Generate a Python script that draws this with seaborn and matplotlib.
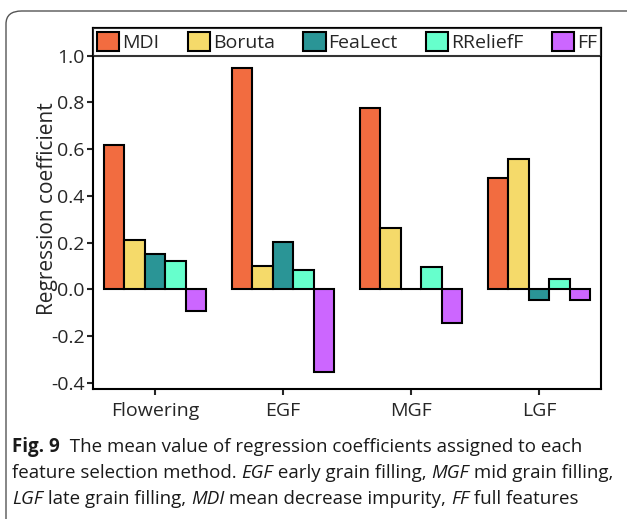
import matplotlib
matplotlib.use("Agg")
import matplotlib.pyplot as plt
import seaborn as sns
import pandas as pd
from matplotlib.patches import FancyBboxPatch

stages = ["Flowering", "EGF", "MGF", "LGF"]
methods = ["MDI", "Boruta", "FeaLect", "RReliefF", "FF"]
mdi = [0.62, 0.946, 0.778, 0.477]
boruta = [0.213, 0.098, 0.263, 0.558]
fealect = [0.15, 0.204, 0.0, -0.044]
rrelieff = [0.123, 0.084, 0.096, 0.046]
ff = [-0.093, -0.354, -0.143, -0.047]
colors = ["#F26C40", "#F5DA6A", "#2A9596", "#66FFCC", "#CC66FF"]
yticks = [-0.4, -0.2, 0.0, 0.2, 0.4, 0.6, 0.8, 1.0]

rows = []
for m, vals in zip(methods, [mdi, boruta, fealect, rrelieff, ff]):
    for s, v in zip(stages, vals):
        rows.append({"stage": s, "method": m, "value": v})
df = pd.DataFrame(rows)

sns.set_style("white")
plt.rcParams["font.family"] = ["Open Sans", "DejaVu Sans"]

fig = plt.figure(figsize=(6.27, 5.19), dpi=100)
fig.patch.set_facecolor("white")

# rounded frame
frame = FancyBboxPatch((6 / 627, -20 / 519), 650 / 627, 528 / 519,
                       boxstyle="round,pad=0,rounding_size=0.025",
                       transform=fig.transFigure, facecolor="none",
                       edgecolor="#555555", linewidth=1.0, clip_on=False)
fig.patches.append(frame)

ax = fig.add_axes([93 / 627, 130 / 519, 508 / 627, 361 / 519])
sns.barplot(data=df, x="stage", y="value", hue="method", order=stages,
            hue_order=methods, palette=colors, width=0.8, ax=ax,
            edgecolor="black", linewidth=1.5, saturation=1)

ax.set_ylim(-0.427, 1.119)
ax.set_xlim(-0.484, 3.484)
ax.set_yticks(yticks)
ax.set_yticklabels([f"{t:.1f}" for t in yticks], fontsize=14)
ax.set_xlabel("")
ax.set_ylabel("Regression coefficient", fontsize=15)
ax.yaxis.set_label_coords(-0.069, 0.5)
ax.tick_params(axis="x", labelsize=14, length=4, width=1.5, direction="out", bottom=True, pad=5)
ax.tick_params(axis="y", length=4, width=1.5, direction="out", left=True, pad=2)
for sp in ax.spines.values():
    sp.set_linewidth(1.5)
    sp.set_color("black")

leg = ax.legend(loc="upper left", bbox_to_anchor=(0, 0, 1, 1), mode="expand",
                ncol=5, borderaxespad=0, fontsize=14, frameon=True,
                fancybox=False, handlelength=1.15, handleheight=1.1,
                handletextpad=0.15, columnspacing=0.8, borderpad=0.2)
leg.get_frame().set_edgecolor("black")
leg.get_frame().set_linewidth(1.5)

# caption with mixed styles
fs = 13.5
lines = [
    [("Fig. 9", "bold", "normal"), ("  The mean value of regression coefficients assigned to each", "normal", "normal")],
    [("feature selection method. ", "normal", "normal"), ("EGF", "normal", "italic"),
     (" early grain filling, ", "normal", "normal"), ("MGF", "normal", "italic"),
     (" mid grain filling,", "normal", "normal")],
    [("LGF", "normal", "italic"), (" late grain filling, ", "normal", "normal"),
     ("MDI", "normal", "italic"), (" mean decrease impurity, ", "normal", "normal"),
     ("FF", "normal", "italic"), (" full features", "normal", "normal")],
]
ys = [447, 473, 499]
fig.canvas.draw()
renderer = fig.canvas.get_renderer()
for line, yp in zip(lines, ys):
    x = 12
    for txt, w, st in line:
        t = fig.text(x / 627, 1 - yp / 519, txt, fontsize=fs, fontweight=w,
                     fontstyle=st, va="center", ha="left", color="#1a1a1a")
        bb = t.get_window_extent(renderer=renderer)
        x += bb.width

fig.savefig("out.png", dpi=100)
